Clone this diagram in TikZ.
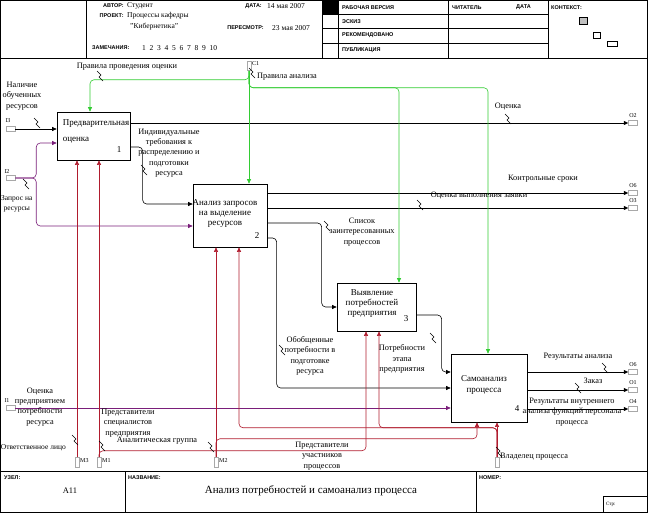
\documentclass[tikz,border=0pt]{standalone}
\usepackage{fontspec}
\setmainfont{Liberation Serif}
\newfontfamily\hdrfont{Liberation Sans}
\usetikzlibrary{arrows.meta,calc}
\definecolor{IDGreen}{HTML}{33CC33}
\definecolor{IDRed}{HTML}{B01C2E}
\definecolor{IDPurple}{HTML}{7A1E7A}
\definecolor{IDStub}{HTML}{A8A8A8}
\definecolor{IDCtx}{HTML}{C0C0C0}
\newcommand{\idsq}[2]{\draw[line width=0.5pt] (#1-3,#2-5) -- (#1+1,#2-1) -- (#1-1,#2+1) -- (#1+3,#2+5);}

\begin{document}
\begin{tikzpicture}[x=1pt,y=-1pt,
  fbox/.style={draw,line width=0.7pt,inner sep=0pt},
  btxt/.style={font=\fontsize{9}{10}\selectfont,align=center,inner sep=0pt},
  lbl/.style={font=\fontsize{8.3}{10.2}\selectfont,align=center,inner sep=0pt},
  hdr/.style={font=\hdrfont\bfseries\fontsize{5.5}{6}\selectfont,inner sep=0pt},
  hval/.style={font=\fontsize{7.5}{8}\selectfont,inner sep=0pt,anchor=west},
  stub/.style={draw=IDStub,fill=white,line width=0.5pt,inner sep=0pt},
  slbl/.style={font=\fontsize{6}{6}\selectfont,inner sep=0pt},
  arr/.style={-{Triangle[length=4.5pt,width=4pt]},line width=0.6pt,rounded corners=4pt}]
\path[use as bounding box] (0,0) rectangle (650,514);

% frame, header and footer
\draw[line width=0.8pt] (0.5,0.5) rectangle (647,512.5);
\draw (0.5,58) -- (647,58);
\foreach \x in {86,322,338,448,548} \draw (\x,0.5) -- (\x,58);
\foreach \y in {14.5,28.5,43} \draw (322,\y) -- (548,\y);
\fill (322,0.5) rectangle (338,14.5);
\draw (0.5,471) -- (647,471);
\draw (125,471) -- (125,512.5);
\draw (476,471) -- (476,512.5);
\draw (603,496) rectangle (647,512.5);
\draw[fill=IDCtx] (579,17) rectangle (587,24);
\draw (593,32) rectangle (600,38);
\draw (607,41) rectangle (617,46);

\node[hdr,anchor=east] (hAut) at (124,6) {АВТОР:};
\node[hval] (vAut) at (127,6) {Студент};
\node[hdr,anchor=east] (hPrj) at (124,16) {ПРОЕКТ:};
\node[hval] (vPrj) at (127,16) {Процессы кафедры};
\node[hval] (vPrj2) at (130,27) {"Кибернетика"};
\node[hdr,anchor=east] (hDat) at (262,6) {ДАТА:};
\node[hval] (vDat) at (267,6) {14 мая 2007};
\node[hdr,anchor=east] (hRev) at (264,28) {ПЕРЕСМОТР:};
\node[hval] (vRev) at (272,28) {23 мая 2007};
\node[hdr,anchor=west] (hNote) at (92,48) {ЗАМЕЧАНИЯ:};
\node[hval] (vNote) at (142,48) {1~~2~~3~~4~~5~~6~~7~~8~~9~~10};
\node[hdr,anchor=west] (hWork) at (342,7.5) {РАБОЧАЯ ВЕРСИЯ};
\node[hdr,anchor=west] (hDraft) at (342,21.5) {ЭСКИЗ};
\node[hdr,anchor=west] (hRec) at (342,35.5) {РЕКОМЕНДОВАНО};
\node[hdr,anchor=west] (hPub) at (342,50) {ПУБЛИКАЦИЯ};
\node[hdr,anchor=west] (hRead) at (452,7.5) {ЧИТАТЕЛЬ};
\node[hdr,anchor=west] (hRDat) at (516,7.5) {ДАТА};
\node[hdr,anchor=west] (hCtx) at (551,7.5) {КОНТЕКСТ:};
\node[hdr,anchor=west] (hNode) at (4,478) {УЗЕЛ:};
\node[font=\fontsize{8.5}{9}\selectfont] (vNode) at (70,491) {A11};
\node[hdr,anchor=west] (hTitle) at (128,478) {НАЗВАНИЕ:};
\node[font=\fontsize{11}{12}\selectfont] (vTitle) at (311,491) {Анализ потребностей и самоанализ процесса};
\node[hdr,anchor=west] (hNum) at (479,478) {НОМЕР:};
\node[hdr,anchor=west,font=\fontsize{5}{6}\selectfont] (hPage) at (606,504) {Стр:};

% activity boxes
\node[fbox,minimum width=73pt,minimum height=48pt] (b1) at (93.5,136) {};
\node[fbox,minimum width=74pt,minimum height=63pt] (b2) at (230,215.5) {};
\node[fbox,minimum width=79pt,minimum height=48pt] (b3) at (376.5,307) {};
\node[fbox,minimum width=76pt,minimum height=68pt] (b4) at (489,388) {};
\node[btxt,align=left,font=\fontsize{9}{16}\selectfont] (t1) at (96,131) {Предварительная\\оценка};
\node[btxt] (t2) at (225,213) {Анализ запросов\\на выделение\\ресурсов};
\node[btxt] (t3) at (372,304) {Выявление\\потребностей\\предприятия};
\node[btxt,font=\fontsize{9}{11}\selectfont] (t4) at (484,385) {Самоанализ\\процесса};
\node[btxt] (n1) at (119,150) {1};
\node[btxt] (n2) at (257,236) {2};
\node[btxt] (n3) at (406,319) {3};
\node[btxt] (n4) at (517,409) {4};

% tunnel stubs
\node[stub,minimum width=9pt,minimum height=5pt] (I3) at (10.5,129) {};
\node[stub,minimum width=9pt,minimum height=5pt] (I2) at (10.5,178) {};
\node[stub,minimum width=9pt,minimum height=5pt] (I1) at (10.5,408) {};
\node[stub,minimum width=4pt,minimum height=9pt] (C1) at (249,66) {};
\node[stub,minimum width=9pt,minimum height=5pt] (O2) at (633,123) {};
\node[stub,minimum width=9pt,minimum height=5pt] (O6a) at (633,193) {};
\node[stub,minimum width=9pt,minimum height=5pt] (O3) at (633,208) {};
\node[stub,minimum width=9pt,minimum height=5pt] (O6b) at (633,372) {};
\node[stub,minimum width=9pt,minimum height=5pt] (O1) at (633,390) {};
\node[stub,minimum width=9pt,minimum height=5pt] (O4) at (633,409) {};
\node[stub,minimum width=4pt,minimum height=10pt] (M3) at (77,462) {};
\node[stub,minimum width=4pt,minimum height=10pt] (M1) at (99,462) {};
\node[stub,minimum width=4pt,minimum height=10pt] (M2) at (216,462) {};
\node[stub,minimum width=4pt,minimum height=10pt] (M4) at (497,462) {};
\node[slbl] (sI3) at (8,121) {I3};
\node[slbl] (sI2) at (7,172) {I2};
\node[slbl] (sI1) at (7,401) {I1};
\node[slbl,anchor=west] (sC1) at (252,64) {C1};
\node[slbl] (sO2) at (633,116) {O2};
\node[slbl] (sO6a) at (633,186) {O6};
\node[slbl] (sO3) at (633,201) {O3};
\node[slbl] (sO6b) at (633,365) {O6};
\node[slbl] (sO1) at (633,383) {O1};
\node[slbl] (sO4) at (633,402) {O4};
\node[slbl,anchor=west] (sM3) at (80,461) {M3};
\node[slbl,anchor=west] (sM1) at (102,461) {M1};
\node[slbl,anchor=west] (sM2) at (219,461) {M2};

% black arrows
\draw[arr] (I3.east) -- (I3.east -| b1.west);
\draw[arr] (b1.east |- O2) -- (O2.west);
\draw[arr] ($(b1.east)+(0,11)$) -| ($(b2.west)+(-50,-11.5)$) -- ($(b2.west)+(0,-11.5)$);
\draw[arr] (b2.east |- O6a) -- (O6a.west);
\draw[arr] (b2.east |- O3) -- (O3.west);
\draw[arr] ($(b2.east)+(0,7.5)$) -| ($(b3.west)+(-15,0)$) -- (b3.west);
\draw[arr] ($(b2.east)+(0,22.5)$) -| ($(b4.west)+(-174,0)$) -- (b4.west);
\draw[arr] ($(b3.east)+(0,8)$) -| ($(b4.west)+(-9,-16)$) -- ($(b4.west)+(0,-16)$);
\draw[arr] (b4.east |- O6b) -- (O6b.west);
\draw[arr] (b4.east |- O1) -- (O1.west);
\draw[arr] (b4.east |- O4) -- (O4.west);

% inputs
\draw[arr,IDPurple] (I2.east) -- ++(21,0) |- ($(b1.west)+(0,7)$);
\draw[arr,IDPurple] (I2.east) -- ++(21,0) |- ($(b2.west)+(0,10.5)$);
\draw[arr,IDPurple] (I1.east) -- (I1.east -| b4.west);

% controls
\draw[arr,IDGreen] (C1.south) -- (C1.south |- b2.north);
\draw[arr,IDGreen] (C1.south) -- ++(0,9) -| ($(b1.north)+(-3.5,0)$);
\draw[arr,IDGreen] (C1.south) -- ++(0,17) -| ($(b3.north)+(22.5,0)$);
\draw[arr,IDGreen] (C1.south) -- ++(0,17) -| ($(b4.north)+(-1,0)$);

% mechanisms
\draw[arr,IDRed] (M3.north) -- (M3.north |- b1.south);
\draw[arr,IDRed] (M1.north) -- (M1.north |- b1.south);
\draw[arr,IDRed] (M1.north) -- ++(0,-6) -| ($(b3.south)+(-10.5,0)$);
\draw[arr,IDRed] (M2.north) -- (M2.north |- b2.south);
\draw[arr,IDRed] (M2.north) -- ++(0,-18) -| ($(b4.south)+(-12,0)$);
\draw[arr,IDRed] (M4.north) -- (M4.north |- b4.south);
\draw[arr,IDRed] (M4.north) -- ++(0,-29) -| ($(b3.south)+(2.5,0)$);
\draw[arr,IDRed] (M4.north) -- ++(0,-29) -| ($(b2.south)+(9,0)$);

% arrow labels
\node[lbl] (lI3) at (22,96) {Наличие\\обученных\\ресурсов};
\node[lbl] (lC1b) at (127,67) {Правила проведения оценки};
\node[lbl,anchor=west] (lC1) at (257,77) {Правила анализа};
\node[lbl] (lO2) at (508,107) {Оценка};
\node[lbl] (lInd) at (169,153) {Индивидуальные\\требования к\\распределению и\\подготовки\\ресурса};
\node[lbl,anchor=west,font=\fontsize{7.5}{10.2}\selectfont] (lI2) at (1,204) {Запрос на\\ресурсы};
\node[lbl] (lO6a) at (543,179) {Контрольные сроки};
\node[lbl] (lO3) at (479,196) {Оценка выполнения заявки};
\node[lbl] (lSp) at (362,232) {Список\\заинтересованных\\процессов};
\node[lbl] (lOb) at (310,356) {Обобщенные\\потребности в\\подготовке\\ресурса};
\node[lbl] (lPo) at (402,359) {Потребности\\этапа\\предприятия};
\node[lbl] (lO6b) at (578,357) {Результаты анализа};
\node[lbl] (lO1) at (593,381) {Заказ};
\node[lbl] (lO4) at (572,412) {Результаты внутреннего\\анализа функций персонала\\процесса};
\node[lbl] (lI1) at (40,407) {Оценка\\предприятием\\потребности\\ресурса};
\node[lbl,anchor=east,font=\fontsize{7.5}{10.2}\selectfont] (lM3) at (66,448) {Ответственное лицо};
\node[lbl] (lM1) at (128,423) {Представители\\специалистов\\предприятия};
\node[lbl] (lM1b) at (157,441) {Аналитическая группа};
\node[lbl] (lM2) at (322,456) {Представители\\участников\\процессов};
\node[lbl,anchor=west] (lM4) at (500,457) {Владелец процесса};

\idsq{37}{123}
\idsq{100}{76}
\idsq{252}{73}
\idsq{508}{119}
\idsq{144}{170}
\idsq{26}{184}
\idsq{420}{205}
\idsq{327}{226}
\idsq{282}{350}
\idsq{433}{338}
\idsq{605}{368}
\idsq{578}{388}
\idsq{75}{440}
\idsq{102}{446}
\idsq{211}{447}
\idsq{499}{452}
\end{tikzpicture}
\end{document}
